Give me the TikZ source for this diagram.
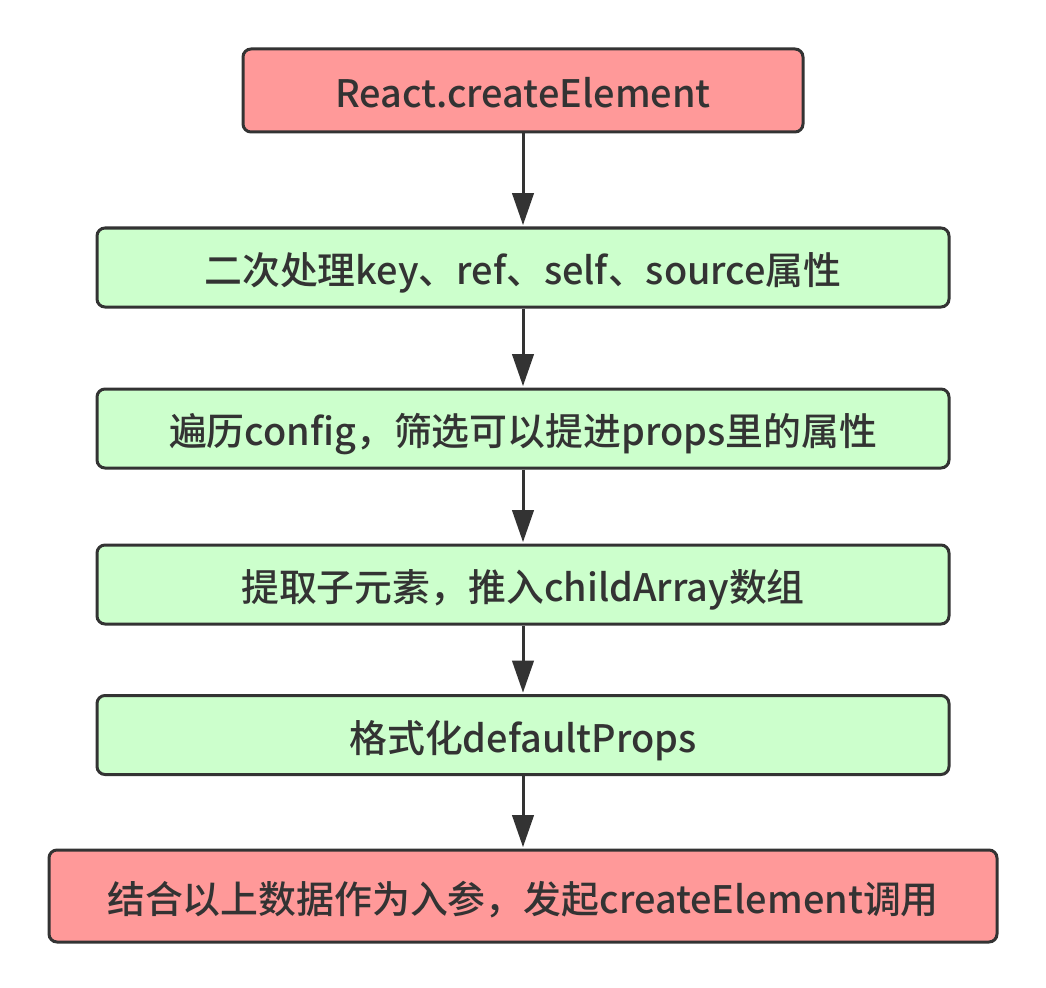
\documentclass[tikz,border=0pt]{standalone}
\usepackage{fontspec}
\setmainfont{Noto Sans CJK SC}[UprightFont={* Medium}, BoldFont={* Bold}]
\usepackage{tikz}
\usetikzlibrary{arrows.meta}

\definecolor{boxpink}{HTML}{FF9999}
\definecolor{boxgreen}{HTML}{CCFFCC}
\definecolor{edge}{HTML}{333333}

\tikzset{
  stepbox/.style={draw=edge, line width=2.25pt, rounded corners=6pt,
    font=\fontsize{28.4}{32}\selectfont, text=edge,
    text height=27pt, text depth=1pt,
    inner sep=0pt, minimum height=79*0.75pt},
  pinkbox/.style={stepbox, fill=boxpink},
  greenbox/.style={stepbox, fill=boxgreen, minimum width=852*0.75pt},
  flow/.style={-{Triangle[length=24pt, width=16pt]}, draw=edge, line width=2.25pt, shorten >=1pt},
}

\begin{document}
\begin{tikzpicture}[x=0.75pt, y=-0.75pt]

%% Define a box
\useasboundingbox (0, 0) rectangle (1046, 988);

%% Define the nodes
% CE = createElement (start)
% CALL = final call (end)

\node [pinkbox, minimum width=560*0.75pt, minimum height=83*0.75pt] (CE) at (523, 90.5) {React.createElement};

\node [greenbox] (KEY) at (523, 267.5) {二次处理key、ref、self、source属性};
\node [greenbox] (CFG) at (523, 428.5) {遍历config，筛选可以提进props里的属性};
\node [greenbox] (CHILD) at (523, 584.5) {提取子元素，推入childArray数组};
\node [greenbox] (DEF) at (523, 735) {格式化defaultProps};

\node [pinkbox, minimum width=948*0.75pt, minimum height=92*0.75pt] (CALL) at (523, 896) {结合以上数据作为入参，发起createElement调用};

%% Draw the arrows
\draw [flow] (CE) to (KEY);
\draw [flow] (KEY) to (CFG);
\draw [flow] (CFG) to (CHILD);
\draw [flow] (CHILD) to (DEF);
\draw [flow] (DEF) to (CALL);

\end{tikzpicture}
\end{document}
